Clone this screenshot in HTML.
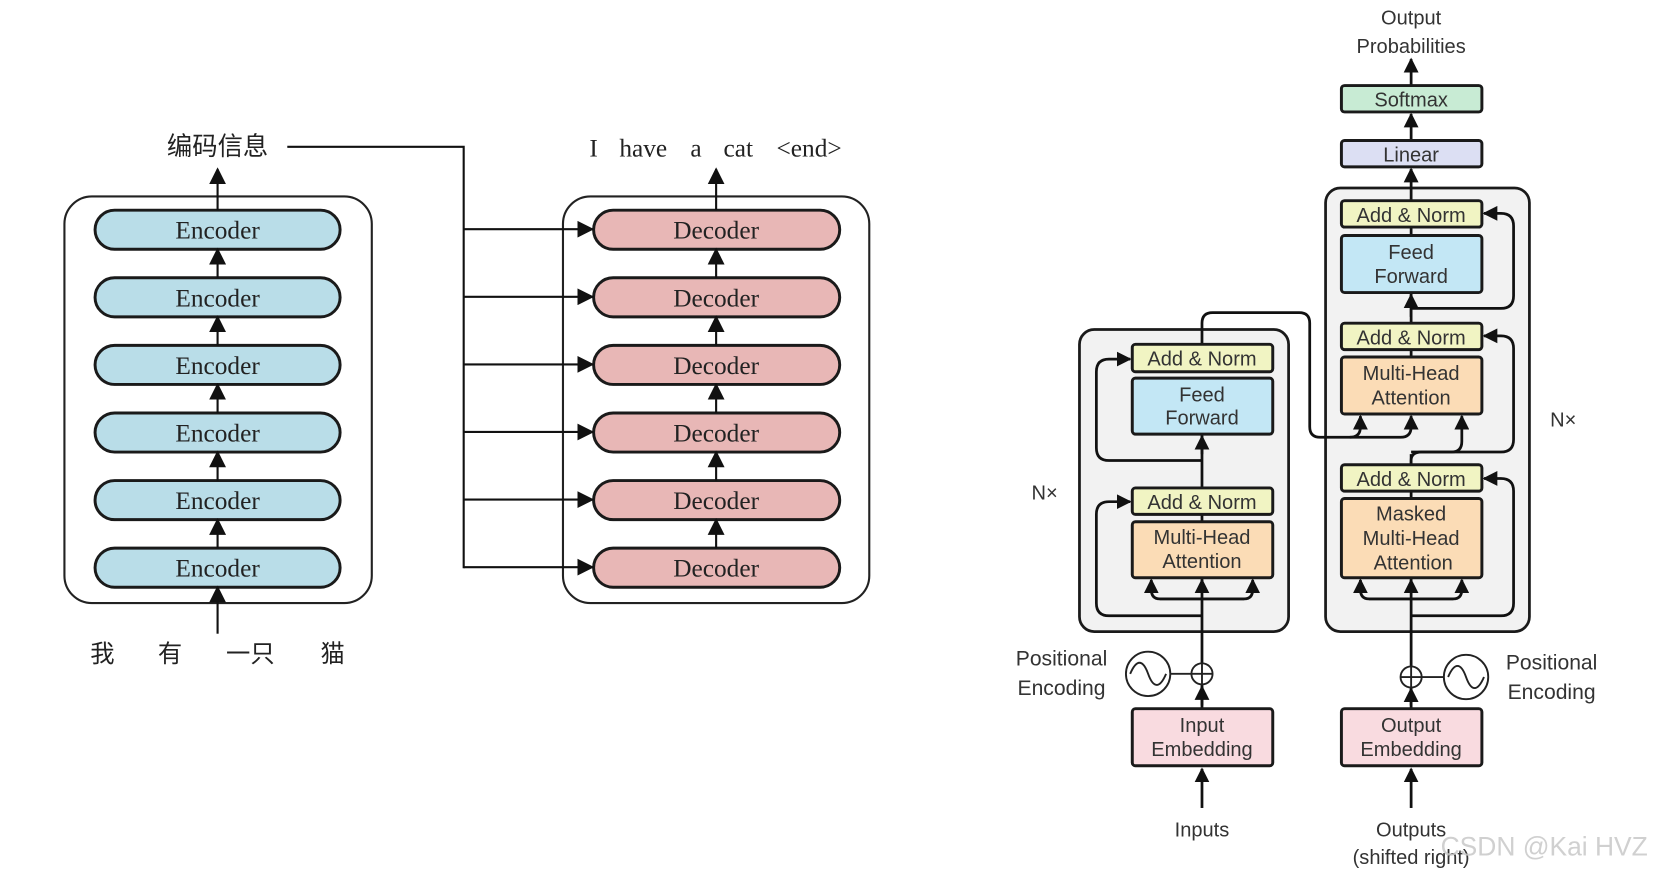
<!DOCTYPE html>
<html><head><meta charset="utf-8"><style>
html,body{margin:0;padding:0;background:#fff;}
svg{display:block}
.s{font-family:"Liberation Sans",sans-serif;font-size:19px;fill:#333;text-anchor:middle}
.r{font-family:"Liberation Serif",serif;font-size:24px;fill:#222;text-anchor:middle}
.c{font-family:"Liberation Sans","Noto Sans CJK SC",sans-serif;font-size:23px;fill:#222;text-anchor:middle}
.b{stroke:#1a1a1a;stroke-width:2.8}
.l{fill:none;stroke:#111;stroke-width:2.6}
.t{fill:none;stroke:#222;stroke-width:1.8}
</style></head><body>
<svg width="1653" height="876" viewBox="0 0 1565 829.4" preserveAspectRatio="none" xmlns="http://www.w3.org/2000/svg">
<defs>
<marker id="ab" viewBox="0 0 10 10" refX="9" refY="5" markerWidth="5.4" markerHeight="5.4" orient="auto"><path d="M0,0 L10,5 L0,10 z" fill="#111"/></marker>
<marker id="as" viewBox="0 0 10 10" refX="9" refY="5" markerWidth="8" markerHeight="8" orient="auto"><path d="M0,0 L10,5 L0,10 z" fill="#111"/></marker>
</defs>

<!-- LEFT -->
<rect x="61" y="186" width="291" height="385" rx="26" fill="#fff" stroke="#222" stroke-width="2"/>
<rect x="533" y="186" width="290" height="385" rx="26" fill="#fff" stroke="#222" stroke-width="2"/>
<g>
<rect x="90" y="199" width="232" height="37" rx="18.5" fill="#b9dde8" class="b"/>
<rect x="90" y="263" width="232" height="37" rx="18.5" fill="#b9dde8" class="b"/>
<rect x="90" y="327" width="232" height="37" rx="18.5" fill="#b9dde8" class="b"/>
<rect x="90" y="391" width="232" height="37" rx="18.5" fill="#b9dde8" class="b"/>
<rect x="90" y="455" width="232" height="37" rx="18.5" fill="#b9dde8" class="b"/>
<rect x="90" y="519" width="232" height="37" rx="18.5" fill="#b9dde8" class="b"/>
<text class="r" x="206" y="226">Encoder</text>
<text class="r" x="206" y="290">Encoder</text>
<text class="r" x="206" y="354">Encoder</text>
<text class="r" x="206" y="418">Encoder</text>
<text class="r" x="206" y="482">Encoder</text>
<text class="r" x="206" y="546">Encoder</text>
</g>
<g>
<rect x="562" y="199" width="233" height="37" rx="18.5" fill="#e8b7b6" class="b"/>
<rect x="562" y="263" width="233" height="37" rx="18.5" fill="#e8b7b6" class="b"/>
<rect x="562" y="327" width="233" height="37" rx="18.5" fill="#e8b7b6" class="b"/>
<rect x="562" y="391" width="233" height="37" rx="18.5" fill="#e8b7b6" class="b"/>
<rect x="562" y="455" width="233" height="37" rx="18.5" fill="#e8b7b6" class="b"/>
<rect x="562" y="519" width="233" height="37" rx="18.5" fill="#e8b7b6" class="b"/>
<text class="r" x="678" y="226">Decoder</text>
<text class="r" x="678" y="290">Decoder</text>
<text class="r" x="678" y="354">Decoder</text>
<text class="r" x="678" y="418">Decoder</text>
<text class="r" x="678" y="482">Decoder</text>
<text class="r" x="678" y="546">Decoder</text>
</g>
<g stroke="#111" stroke-width="2" fill="none">
<line x1="206" y1="600" x2="206" y2="556" marker-end="url(#as)"/>
<line x1="206" y1="519" x2="206" y2="492" marker-end="url(#as)"/>
<line x1="206" y1="455" x2="206" y2="428" marker-end="url(#as)"/>
<line x1="206" y1="391" x2="206" y2="364" marker-end="url(#as)"/>
<line x1="206" y1="327" x2="206" y2="300" marker-end="url(#as)"/>
<line x1="206" y1="263" x2="206" y2="236" marker-end="url(#as)"/>
<line x1="206" y1="199" x2="206" y2="160" marker-end="url(#as)"/>
<line x1="678" y1="519" x2="678" y2="492" marker-end="url(#as)"/>
<line x1="678" y1="455" x2="678" y2="428" marker-end="url(#as)"/>
<line x1="678" y1="391" x2="678" y2="364" marker-end="url(#as)"/>
<line x1="678" y1="327" x2="678" y2="300" marker-end="url(#as)"/>
<line x1="678" y1="263" x2="678" y2="236" marker-end="url(#as)"/>
<line x1="678" y1="199" x2="678" y2="160" marker-end="url(#as)"/>
<polyline points="272,139 439,139 439,538"/>
<line x1="439" y1="217" x2="561" y2="217" marker-end="url(#as)"/>
<line x1="439" y1="281" x2="561" y2="281" marker-end="url(#as)"/>
<line x1="439" y1="345" x2="561" y2="345" marker-end="url(#as)"/>
<line x1="439" y1="409" x2="561" y2="409" marker-end="url(#as)"/>
<line x1="439" y1="473" x2="561" y2="473" marker-end="url(#as)"/>
<line x1="439" y1="537" x2="561" y2="537" marker-end="url(#as)"/>
</g>
<text class="c" x="206" y="147" style="font-size:24px">编码信息</text>
<text class="r" x="562" y="148">I</text>
<text class="r" x="609" y="148">have</text>
<text class="r" x="659" y="148">a</text>
<text class="r" x="699" y="148">cat</text>
<text class="r" x="766" y="148">&lt;end&gt;</text>
<text class="c" x="97" y="627">我</text>
<text class="c" x="161" y="627">有</text>
<text class="c" x="237" y="627">一只</text>
<text class="c" x="315" y="627">猫</text>

<!-- RIGHT -->
<rect x="1022" y="312" width="198" height="286" rx="14" fill="#f2f2f2" stroke="#1a1a1a" stroke-width="2.6"/>
<rect x="1255" y="178" width="193" height="420" rx="14" fill="#f2f2f2" stroke="#1a1a1a" stroke-width="2.6"/>

<g class="l">
<line x1="1138" y1="668" x2="1138" y2="360"/>
<path d="M1138,583 H1050 Q1038,583 1038,571 V487 Q1038,475 1050,475 H1070" marker-end="url(#ab)"/>
<path d="M1138,436 H1050 Q1038,436 1038,424 V352 Q1038,340 1050,340 H1070" marker-end="url(#ab)"/>
<path d="M1098,567 H1178 Q1186,567 1186,558 V549" marker-end="url(#ab)"/>
<path d="M1178,567 H1098 Q1090,567 1090,558 V549" marker-end="url(#ab)"/>
<line x1="1138" y1="560" x2="1138" y2="549" marker-end="url(#ab)"/>
<line x1="1138" y1="430" x2="1138" y2="413" marker-end="url(#ab)"/>
<path d="M1138,326 V306 Q1138,296 1148,296 H1230 Q1240,296 1240,306 V404 Q1240,414 1250,414 H1278 Q1288,414 1288,404 V394" marker-end="url(#ab)"/>
<path d="M1278,414 H1326 Q1336,414 1336,404 V394" marker-end="url(#ab)"/>
<line x1="1138" y1="765" x2="1138" y2="728" marker-end="url(#ab)"/>
<line x1="1138" y1="671" x2="1138" y2="650" marker-end="url(#ab)"/>

<line x1="1336" y1="668" x2="1336" y2="430"/>
<path d="M1336,440 V436 Q1336,428 1346,428 H1374 Q1384,428 1384,418 V394" marker-end="url(#ab)"/>
<path d="M1336,583 H1421 Q1433,583 1433,571 V465 Q1433,453 1421,453 H1405" marker-end="url(#ab)"/>
<path d="M1336,428 H1421 Q1433,428 1433,416 V330 Q1433,318 1421,318 H1405" marker-end="url(#ab)"/>
<path d="M1336,292 H1421 Q1433,292 1433,280 V214 Q1433,202 1421,202 H1405" marker-end="url(#ab)"/>
<path d="M1296,567 H1376 Q1384,567 1384,558 V549" marker-end="url(#ab)"/>
<path d="M1376,567 H1296 Q1288,567 1288,558 V549" marker-end="url(#ab)"/>
<line x1="1336" y1="560" x2="1336" y2="549" marker-end="url(#ab)"/>
<line x1="1336" y1="338" x2="1336" y2="190"/>
<line x1="1336" y1="300" x2="1336" y2="279" marker-end="url(#ab)"/>
<line x1="1336" y1="190" x2="1336" y2="160" marker-end="url(#ab)"/>
<line x1="1336" y1="133" x2="1336" y2="108" marker-end="url(#ab)"/>
<line x1="1336" y1="81" x2="1336" y2="56" marker-end="url(#ab)"/>
<line x1="1336" y1="765" x2="1336" y2="728" marker-end="url(#ab)"/>
<line x1="1336" y1="671" x2="1336" y2="652" marker-end="url(#ab)"/>
</g>

<rect x="1072" y="326" width="133" height="26" rx="3" fill="#f1f4c3" class="b"/>
<text class="s" x="1138" y="346">Add &amp; Norm</text>
<rect x="1072" y="358" width="133" height="53" rx="3" fill="#c3e7f5" class="b"/>
<text class="s" x="1138" y="380">Feed</text><text class="s" x="1138" y="402">Forward</text>
<rect x="1072" y="462" width="133" height="25" rx="3" fill="#f1f4c3" class="b"/>
<text class="s" x="1138" y="482">Add &amp; Norm</text>
<rect x="1072" y="494" width="133" height="53" rx="3" fill="#fbdcb6" class="b"/>
<text class="s" x="1138" y="515">Multi-Head</text><text class="s" x="1138" y="538">Attention</text>
<rect x="1072" y="671" width="133" height="54" rx="3" fill="#f9dbe0" class="b"/>
<text class="s" x="1138" y="693">Input</text><text class="s" x="1138" y="716">Embedding</text>

<rect x="1270" y="81" width="133" height="25" rx="3" fill="#c8ebd4" class="b"/>
<text class="s" x="1336" y="101">Softmax</text>
<rect x="1270" y="133" width="133" height="25" rx="3" fill="#dcdff3" class="b"/>
<text class="s" x="1336" y="153">Linear</text>
<rect x="1270" y="190" width="133" height="25" rx="3" fill="#f1f4c3" class="b"/>
<text class="s" x="1336" y="210">Add &amp; Norm</text>
<rect x="1270" y="223" width="133" height="54" rx="3" fill="#c3e7f5" class="b"/>
<text class="s" x="1336" y="245">Feed</text><text class="s" x="1336" y="268">Forward</text>
<rect x="1270" y="306" width="133" height="25" rx="3" fill="#f1f4c3" class="b"/>
<text class="s" x="1336" y="326">Add &amp; Norm</text>
<rect x="1270" y="338" width="133" height="54" rx="3" fill="#fbdcb6" class="b"/>
<text class="s" x="1336" y="360">Multi-Head</text><text class="s" x="1336" y="383">Attention</text>
<rect x="1270" y="440" width="133" height="25" rx="3" fill="#f1f4c3" class="b"/>
<text class="s" x="1336" y="460">Add &amp; Norm</text>
<rect x="1270" y="472" width="133" height="75" rx="3" fill="#fbdcb6" class="b"/>
<text class="s" x="1336" y="493">Masked</text><text class="s" x="1336" y="516">Multi-Head</text><text class="s" x="1338" y="539">Attention</text>
<rect x="1270" y="671" width="133" height="54" rx="3" fill="#f9dbe0" class="b"/>
<text class="s" x="1336" y="693">Output</text><text class="s" x="1336" y="716">Embedding</text>

<g class="t">
<circle cx="1087" cy="638" r="21"/>
<path d="M1070,638 C1076,624 1082,624 1087,638 C1092,652 1098,652 1104,638"/>
<line x1="1108" y1="638" x2="1128" y2="638"/>
<circle cx="1138" cy="638" r="10" fill="#fff"/>
<line x1="1128" y1="638" x2="1148" y2="638"/><line x1="1138" y1="628" x2="1138" y2="648"/>
<circle cx="1388" cy="641" r="21"/>
<path d="M1371,641 C1377,627 1383,627 1388,641 C1393,655 1399,655 1405,641"/>
<line x1="1346" y1="641" x2="1367" y2="641"/>
<circle cx="1336" cy="641" r="10" fill="#fff"/>
<line x1="1326" y1="641" x2="1346" y2="641"/><line x1="1336" y1="631" x2="1336" y2="651"/>
</g>

<text class="s" x="1336" y="23">Output</text>
<text class="s" x="1336" y="50">Probabilities</text>
<text class="s" x="1005" y="630" style="font-size:20px">Positional</text>
<text class="s" x="1005" y="658" style="font-size:20px">Encoding</text>
<text class="s" x="1469" y="634" style="font-size:20px">Positional</text>
<text class="s" x="1469" y="662" style="font-size:20px">Encoding</text>
<text class="s" x="989" y="473">N×</text>
<text class="s" x="1480" y="404">N×</text>
<text class="s" x="1138" y="792">Inputs</text>
<text class="s" x="1336" y="792">Outputs</text>
<text class="s" x="1336" y="818">(shifted right)</text>
<text x="1462" y="810" style="font-family:'Liberation Sans',sans-serif;font-size:25px;fill:#c8c8c8;opacity:0.85;text-anchor:middle">CSDN @Kai  HVZ</text>
</svg>
</body></html>
